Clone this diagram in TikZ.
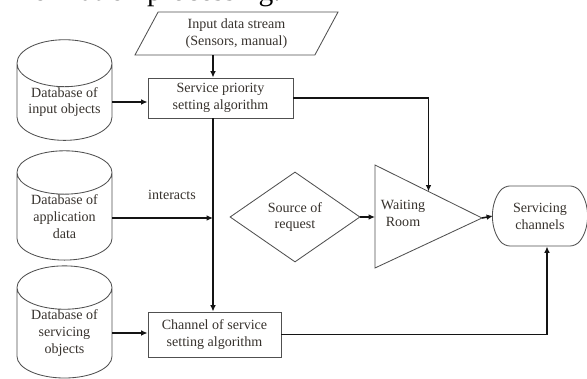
\documentclass[tikz,border=0pt]{standalone}
\usepackage{fontspec}
\setmainfont{Liberation Serif}
\usepackage{xcolor}
\usepackage{tikz}
\usetikzlibrary{arrows.meta,calc,shapes.geometric,shapes.misc}
\definecolor{figline}{RGB}{20,20,20}
\definecolor{figshape}{RGB}{80,80,80}
\definecolor{figtext}{RGB}{55,50,45}
\tikzset{
  shp/.style  ={draw=figshape, line width=0.6pt, inner sep=0pt, align=center,
                text=figtext, font=\fontsize{10}{12}\selectfont},
  box/.style  ={shp, rectangle},
  dbase/.style={shp, cylinder, shape border rotate=90, shape aspect=0.65,
                minimum width=2.375cm},
  wire/.style ={draw=figline, line width=1.1pt},
  ptr/.style  ={wire, -{Latex[length=4.5pt,width=4pt]}},
  lab/.style  ={font=\fontsize{10}{12}\selectfont, text=figtext, inner sep=1pt},
}

\begin{document}
\begin{tikzpicture}[x=0.025cm, y=-0.025cm]
  \useasboundingbox (0,0) rectangle (587,379);
  \clip (0,0) rectangle (587,379);
  \node[anchor=base west, inner sep=0pt, font=\fontsize{21}{24}\selectfont] (head) at (0,1) {information processing.};
  % input and algorithm boxes
  \node[shp, trapezium, trapezium left angle=52, trapezium right angle=128,
        trapezium stretches body, minimum width=5.075cm, minimum height=1.075cm] (inp) at (236.5,33.5)
        {Input data stream\\(Sensors, manual)};
  \node[box, minimum width=3.625cm, minimum height=1cm] (prio) at (220.5,98) {Service priority\\setting algorithm};
  \node[box, minimum width=3.325cm, minimum height=1.125cm] (chan) at (214.5,334.5) {Channel of service\\setting algorithm};
  \coordinate (bus) at (213,0);
  \coordinate (join) at (213,218);
  % databases
  \node[dbase, minimum height=2.1cm] (dbin) at (64.5,102) {Database of\\input objects};
  \node[dbase, minimum height=2.2cm] (dbapp) at (64.5,216.5) {Database of\\application\\data};
  \node[dbase, minimum height=2.15cm] (dbsrv) at (64.5,333) {Database of\\servicing\\objects};
  % queue
  \node[shp, diamond, aspect=1.44, minimum width=3.25cm, minimum height=2.25cm] (src) at (295,217) {Source of\\request};
  \coordinate (wrtop) at (375,165);
  \coordinate (wrtip) at (482,218);
  \coordinate (wrbot) at (375,268);
  \coordinate (wrin) at (375,217);
  \coordinate (wrmid) at ($(wrtop)!0.5!(wrtip)$);
  \draw[shp] (wrtop) -- (wrtip) -- (wrbot) -- cycle;
  \node[lab, align=center] (wr) at (403,213) {Waiting\\Room};
  \node[shp, rounded rectangle, rounded rectangle arc length=80, rounded corners=4pt,
        minimum width=1.95cm, minimum height=1.5cm] (srv) at (540,216) {Servicing\\channels};
  % connectors
  \draw[ptr] (inp.south -| bus) -- (prio.north -| bus);
  \draw[ptr] (dbin.east) -- (dbin.east -| prio.west);
  \draw[ptr] (prio.east) -| (wrmid);
  \draw[ptr] (prio.south -| bus) -- (chan.north -| bus);
  \draw[ptr] (dbapp.east |- join) -- (join);
  \node[lab] (inter) at (172,195) {interacts};
  \draw[ptr] (dbsrv.east) -- (dbsrv.east -| chan.west);
  \draw[ptr] (chan.east) -| ([xshift=0.175cm]srv.south);
  \draw[ptr] (src.east) -- (wrin);
  \draw[ptr] (wrtip) -- (srv.west);
\end{tikzpicture}
\end{document}
